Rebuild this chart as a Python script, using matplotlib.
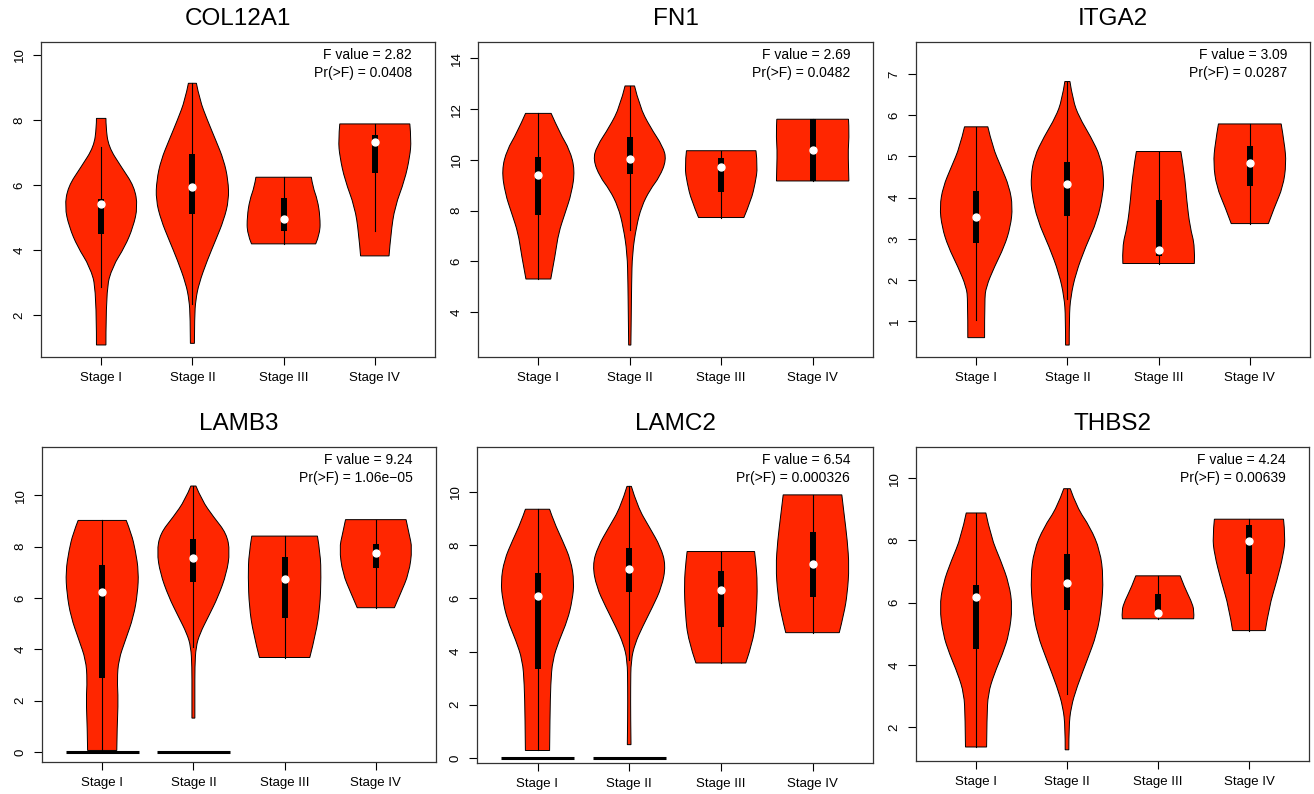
import matplotlib
matplotlib.use("Agg")
import matplotlib.pyplot as plt
from matplotlib.path import Path
from matplotlib.patches import PathPatch

plt.rcParams['font.family'] = ['Liberation Sans', 'DejaVu Sans']

stages = ["Stage I", "Stage II", "Stage III", "Stage IV"]
genes = ["COL12A1", "FN1", "ITGA2", "LAMB3", "LAMC2", "THBS2"]
f_values = ["2.82", "2.69", "3.09", "9.24", "6.54", "4.24"]
p_values = ["0.0408", "0.0482", "0.0287", "1.06e\u221205", "0.000326", "0.00639"]

# box stats per stage: q1, median, q3, whisker low, whisker high
col12a1_box = [(4.48, 5.41, 5.57, 2.87, 7.18), (5.10, 5.95, 6.94, 2.34, 9.13),
               (4.58, 4.95, 5.59, 4.19, 6.24), (6.36, 7.31, 7.55, 4.58, 7.88)]
fn1_box = [(7.83, 9.41, 10.10, 5.31, 11.83), (9.45, 10.02, 10.92, 7.24, 12.91),
           (8.72, 9.73, 10.06, 7.73, 10.36), (9.17, 10.37, 11.60, 9.17, 11.60)]
itga2_box = [(2.90, 3.52, 4.15, 1.04, 5.72), (3.55, 4.32, 4.87, 1.55, 6.82),
             (2.58, 2.74, 3.94, 2.40, 5.12), (4.29, 4.83, 5.25, 3.37, 5.79)]
lamb3_box = [(2.88, 6.24, 7.28, 0.06, 9.02), (6.61, 7.55, 8.28, 4.10, 10.36),
             (5.21, 6.75, 7.60, 3.68, 8.41), (7.15, 7.75, 8.12, 5.62, 9.05)]
lamc2_box = [(3.36, 6.08, 6.95, 0.28, 9.35), (6.22, 7.12, 7.89, 3.67, 10.21),
             (4.92, 6.30, 7.03, 3.57, 7.76), (6.05, 7.28, 8.48, 4.71, 9.89)]
thbs2_box = [(4.51, 6.17, 6.58, 1.36, 8.88), (5.76, 6.63, 7.56, 3.07, 9.66),
             (5.67, 5.68, 6.28, 5.48, 6.86), (6.92, 7.99, 8.49, 5.10, 8.68)]

# violin outlines: expression levels and relative half-widths
col12a1_y = [[1.08, 2.77, 3.49, 4.10, 4.72, 5.33, 5.95, 6.56, 7.18, 7.79, 8.05],
             [1.13, 1.95, 2.46, 2.97, 3.69, 4.31, 4.92, 5.54, 6.15, 6.77, 7.38, 8.00, 8.62, 9.13],
             [4.19, 4.51, 5.03, 5.54, 5.95, 6.24],
             [3.82, 4.51, 5.33, 6.15, 6.87, 7.38, 7.88]]
col12a1_w = [[0.13, 0.13, 0.31, 0.65, 0.88, 1.00, 0.91, 0.55, 0.20, 0.13, 0.13],
             [0.055, 0.06, 0.09, 0.18, 0.41, 0.64, 0.86, 1.00, 0.98, 0.86, 0.64, 0.41, 0.20, 0.11],
             [0.88, 1.00, 1.00, 0.93, 0.80, 0.76],
             [0.39, 0.44, 0.55, 0.82, 0.96, 1.00, 0.96]]
fn1_y = [[5.31, 6.32, 7.11, 7.90, 8.69, 9.60, 10.39, 11.05, 11.83],
         [2.71, 3.83, 5.14, 6.32, 7.37, 8.16, 8.82, 9.34, 10.00, 10.52, 11.31, 12.10, 12.91],
         [7.73, 8.42, 9.08, 9.73, 10.36],
         [9.17, 9.73, 10.39, 11.05, 11.60]]
fn1_w = [[0.34, 0.47, 0.55, 0.73, 0.91, 1.00, 0.86, 0.59, 0.35],
         [0.03, 0.04, 0.05, 0.07, 0.18, 0.32, 0.55, 0.82, 1.00, 0.91, 0.55, 0.27, 0.13],
         [0.62, 0.82, 0.93, 1.00, 0.95],
         [0.99, 0.98, 0.97, 1.00, 0.98]]
itga2_y = [[0.60, 1.51, 1.83, 2.32, 2.81, 3.29, 3.78, 4.26, 4.75, 5.23, 5.72],
           [0.42, 1.10, 1.59, 2.16, 2.81, 3.45, 4.10, 4.51, 4.99, 5.48, 5.96, 6.37, 6.82],
           [2.40, 2.81, 3.29, 3.94, 4.59, 5.12],
           [3.37, 3.78, 4.26, 4.83, 5.32, 5.79]]
itga2_w = [[0.23, 0.23, 0.27, 0.50, 0.77, 0.94, 1.00, 0.91, 0.68, 0.45, 0.32],
           [0.05, 0.05, 0.09, 0.23, 0.50, 0.82, 0.98, 1.00, 0.91, 0.64, 0.32, 0.15, 0.07],
           [0.98, 1.00, 0.86, 0.77, 0.71, 0.61],
           [0.51, 0.68, 0.91, 1.00, 0.95, 0.86]]
lamb3_y = [[0.06, 1.00, 2.03, 2.81, 3.59, 4.37, 5.27, 6.18, 7.02, 7.86, 8.51, 9.02],
           [1.32, 2.29, 3.33, 4.10, 4.62, 5.27, 6.05, 6.96, 7.80, 8.51, 9.16, 9.81, 10.36],
           [3.68, 4.62, 5.66, 6.83, 7.73, 8.41],
           [5.62, 6.18, 6.96, 7.93, 8.51, 9.05]]
lamb3_w = [[0.40, 0.41, 0.44, 0.41, 0.45, 0.64, 0.86, 0.97, 1.00, 0.91, 0.80, 0.66],
           [0.04, 0.04, 0.04, 0.07, 0.18, 0.41, 0.68, 0.91, 1.00, 0.91, 0.55, 0.23, 0.07],
           [0.69, 0.86, 0.97, 1.00, 0.98, 0.90],
           [0.51, 0.68, 0.91, 1.00, 0.91, 0.83]]
lamc2_y = [[0.28, 1.54, 2.79, 3.67, 4.42, 5.18, 5.93, 6.62, 7.43, 8.18, 8.87, 9.35],
           [0.50, 1.54, 2.67, 3.67, 4.30, 4.92, 5.68, 6.43, 7.24, 7.93, 8.68, 9.44, 10.21],
           [3.57, 4.42, 5.43, 6.55, 7.43, 7.76],
           [4.71, 5.43, 6.18, 7.18, 8.18, 9.19, 9.89]]
lamc2_w = [[0.33, 0.34, 0.36, 0.41, 0.59, 0.82, 0.95, 1.00, 0.91, 0.68, 0.45, 0.33],
           [0.05, 0.04, 0.04, 0.05, 0.16, 0.36, 0.64, 0.89, 1.00, 0.86, 0.55, 0.23, 0.06],
           [0.68, 0.89, 0.97, 1.00, 0.95, 0.92],
           [0.73, 0.86, 0.95, 1.00, 0.95, 0.86, 0.80]]
thbs2_y = [[1.36, 2.32, 3.07, 3.71, 4.35, 4.99, 5.85, 6.60, 7.35, 8.10, 8.88],
           [1.27, 2.00, 2.64, 3.28, 4.14, 4.99, 5.85, 6.81, 7.67, 8.42, 9.06, 9.66],
           [5.48, 5.74, 6.06, 6.49, 6.86],
           [5.10, 5.85, 6.71, 7.56, 8.10, 8.68]]
thbs2_w = [[0.29, 0.30, 0.33, 0.50, 0.73, 0.91, 1.00, 0.91, 0.68, 0.41, 0.27],
           [0.05, 0.05, 0.11, 0.27, 0.55, 0.82, 0.95, 1.00, 0.91, 0.64, 0.27, 0.09],
           [0.98, 1.00, 0.91, 0.73, 0.61],
           [0.45, 0.55, 0.77, 0.95, 1.00, 0.95]]

# stages with a pile of zero values (drawn as a flat bar at 0)
zero_bars = {"LAMB3": [0, 1], "LAMC2": [0, 1]}

boxes = [col12a1_box, fn1_box, itga2_box, lamb3_box, lamc2_box, thbs2_box]
outlines_y = [col12a1_y, fn1_y, itga2_y, lamb3_y, lamc2_y, thbs2_y]
outlines_w = [col12a1_w, fn1_w, itga2_w, lamb3_w, lamc2_w, thbs2_w]

ylims = [(0.71, 10.4), (2.24, 14.64), (0.13, 7.78), (-0.39, 11.88), (-0.19, 11.69), (0.91, 11.0)]
yticks = [[2, 4, 6, 8, 10], [4, 6, 8, 10, 12, 14], [1, 2, 3, 4, 5, 6, 7],
          [0, 2, 4, 6, 8, 10], [0, 2, 4, 6, 8, 10], [2, 4, 6, 8, 10]]

VIOLIN_COLOR = "#ff2600"
HALF_WIDTH = 0.4

W, H = 1314, 794
fig = plt.figure(figsize=(W / 100, H / 100), dpi=100)

# axes boxes in pixels: left, top, right, bottom
panel_px = [(41, 42, 435, 357), (478, 42, 873, 357), (916, 42, 1310, 357),
            (42, 447, 436, 762), (477, 447, 873, 763), (916, 447, 1309, 761)]


def smooth_side(pts):
    # quadratic bezier through midpoints, read points act as control points
    verts, codes = [], []
    for k in range(1, len(pts) - 1):
        mid = ((pts[k][0] + pts[k + 1][0]) / 2, (pts[k][1] + pts[k + 1][1]) / 2)
        if k == len(pts) - 2:
            mid = pts[k + 1]
        verts += [pts[k], mid]
        codes += [Path.CURVE3, Path.CURVE3]
    if len(pts) == 2:
        verts, codes = [pts[1]], [Path.LINETO]
    return verts, codes


def draw_violin(ax, x, ys, ws, color):
    left = [(x - w * HALF_WIDTH, y) for y, w in zip(ys, ws)]
    right = [(x + w * HALF_WIDTH, y) for y, w in zip(ys, ws)][::-1]
    verts, codes = [left[0]], [Path.MOVETO]
    v, c = smooth_side(left)
    verts += v; codes += c
    verts.append(right[0]); codes.append(Path.LINETO)
    v, c = smooth_side(right)
    verts += v; codes += c
    verts.append(left[0]); codes.append(Path.CLOSEPOLY)
    ax.add_patch(PathPatch(Path(verts, codes), facecolor=color, edgecolor="black",
                           linewidth=0.7, zorder=2))


for i, gene in enumerate(genes):
    l, t, r, b = panel_px[i]
    ax = fig.add_axes([l / W, 1 - b / H, (r - l) / W, (b - t) / H])
    positions = range(1, len(stages) + 1)
    for j, x in enumerate(positions):
        draw_violin(ax, x, outlines_y[i][j], outlines_w[i][j], VIOLIN_COLOR)
        q1, med, q3, lo, hi = boxes[i][j]
        ax.plot([x, x], [lo, hi], color="black", linewidth=0.8, zorder=3)
        ax.plot([x, x], [q1, q3], color="black", linewidth=4.3,
                solid_capstyle="butt", zorder=4)
        ax.plot(x, med, "o", color="white", markersize=5, zorder=5)
        if j in zero_bars.get(gene, []):
            ax.plot([x - HALF_WIDTH, x + HALF_WIDTH], [0, 0], color="black",
                    linewidth=2.2, solid_capstyle="butt", zorder=3)

    ax.set_xlim(0.34, 4.66)
    ax.set_ylim(*ylims[i])
    ax.set_xticks(list(positions))
    ax.set_xticklabels(stages, fontsize=9.5)
    ax.set_yticks(yticks[i])
    ax.set_yticklabels([str(v) for v in yticks[i]], fontsize=9.5, rotation=90, va="center")
    ax.tick_params(axis="both", direction="out", length=6, width=0.8, pad=5)
    for sp in ax.spines.values():
        sp.set_linewidth(0.9)
        sp.set_color("#333333")

    ax.text(0.5, 1 + 23 / (b - t), gene, transform=ax.transAxes,
            ha="center", va="center", fontsize=17.5)
    ax.text(1 - 23 / (r - l), 1 - 13 / (b - t), "F value = " + f_values[i],
            transform=ax.transAxes, ha="right", va="center", fontsize=10)
    ax.text(1 - 23 / (r - l), 1 - 31 / (b - t), "Pr(>F) = " + p_values[i],
            transform=ax.transAxes, ha="right", va="center", fontsize=10)

fig.savefig("out.png", dpi=100)
